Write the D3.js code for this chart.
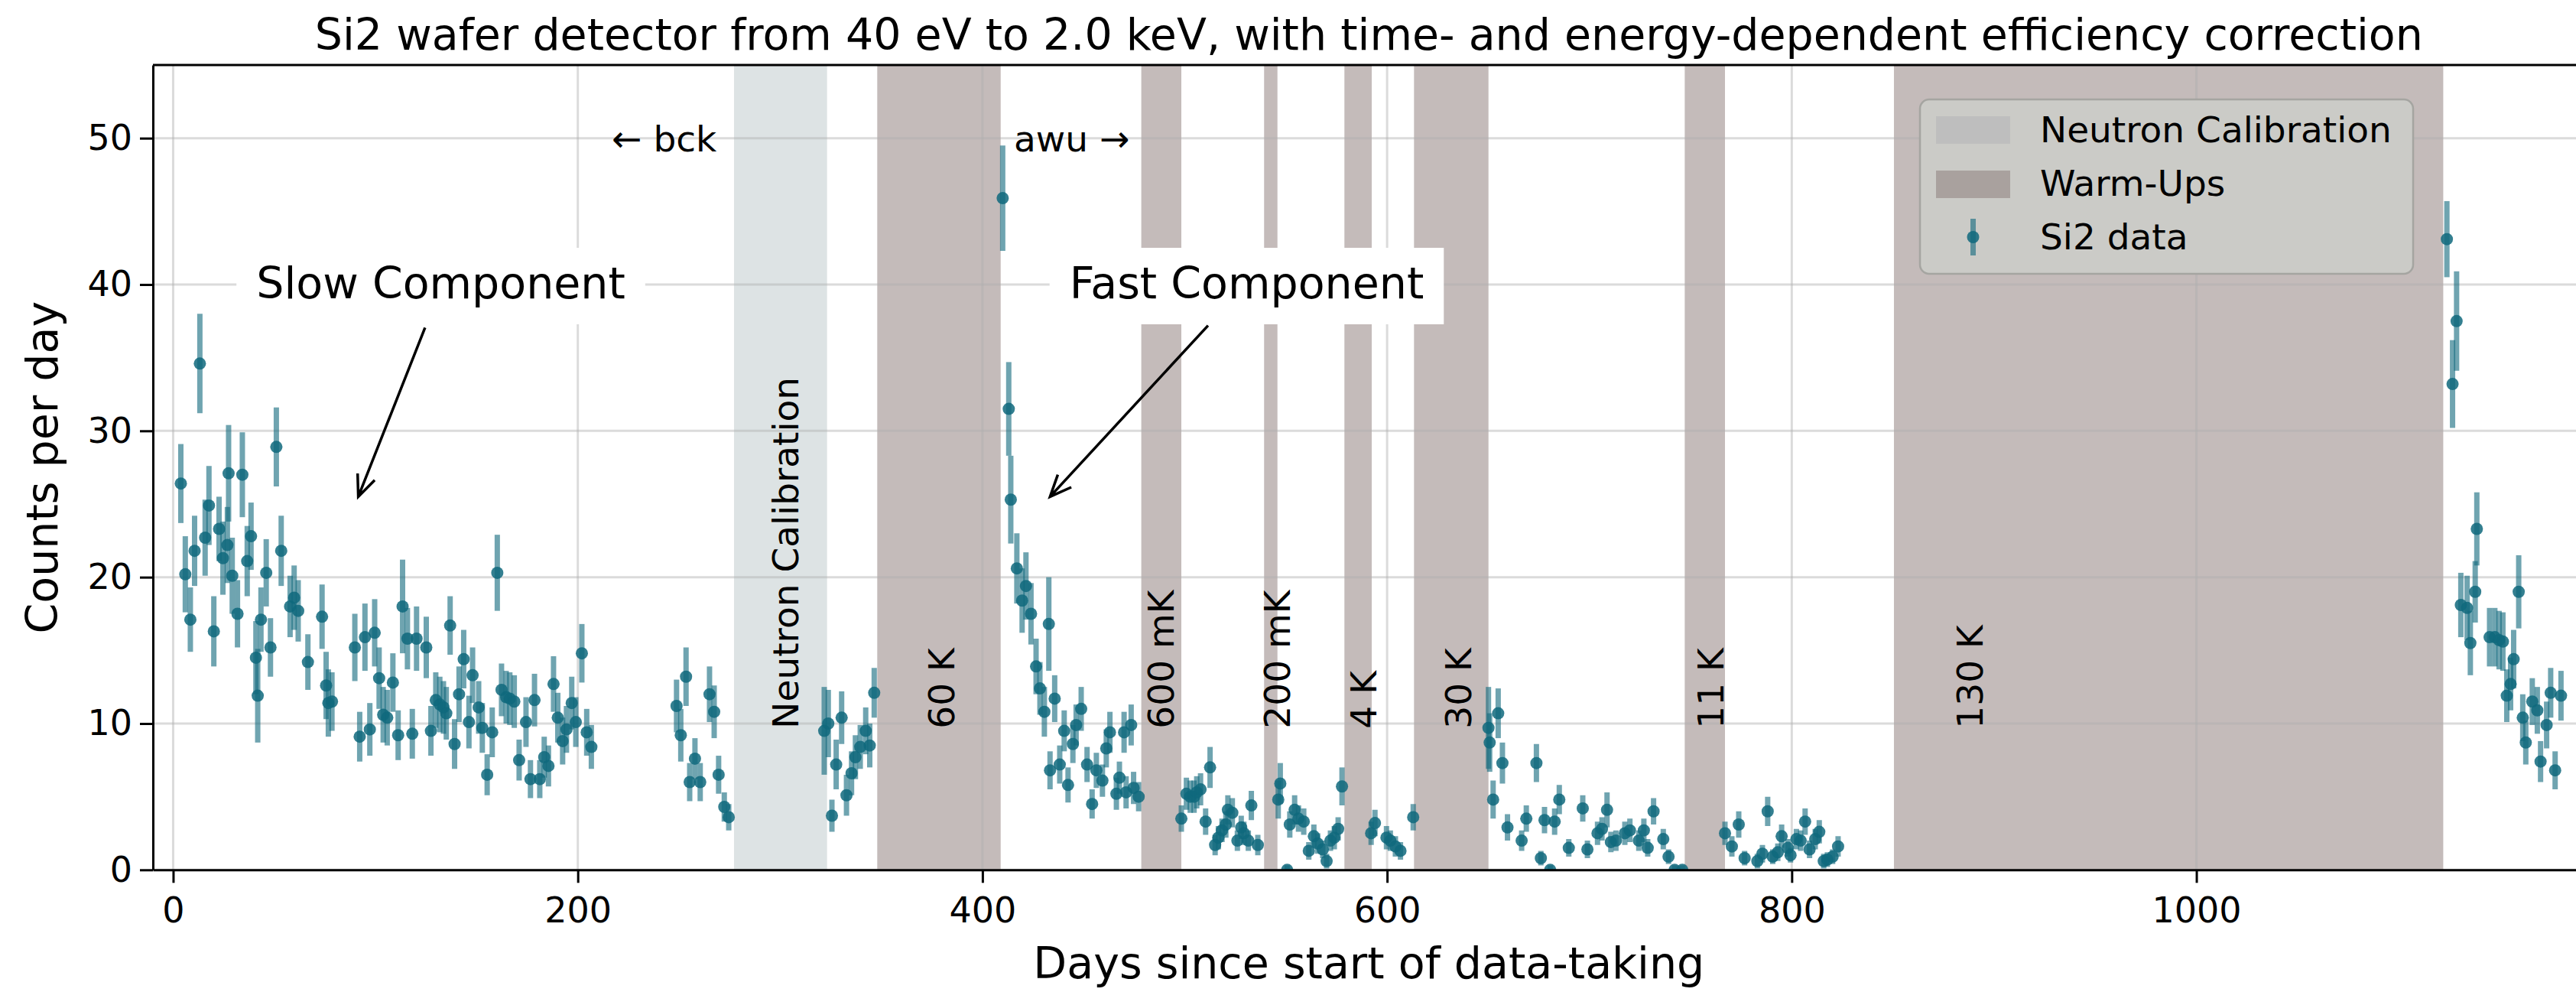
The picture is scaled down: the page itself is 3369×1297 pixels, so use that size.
<!DOCTYPE html>
<html>
<head>
<meta charset="utf-8">
<script src="https://cdn.jsdelivr.net/npm/d3@7"></script>
<style>
  html, body { margin: 0; padding: 0; background: #ffffff; }
  svg { display: block; }
  text { font-family: "DejaVu Sans", sans-serif; fill: #000; }
</style>
</head>
<body>
<svg id="chart"></svg>
<script>
// ---- Si2 daily count rate (days since start, counts per day, 1-sigma error) ----
const days = [
  // first cool-down, slow component
  3.8, 6.0, 8.5, 10.6, 13.2, 15.8, 17.7, 20.1, 22.7, 24.6,
  26.8, 27.4, 29.2, 31.8, 34.2, 36.6, 38.5, 40.9, 41.8, 43.4,
  46.0, 48.1, 51.0, 53.4, 57.8, 59.8, 61.8, 66.6, 73.6, 75.6,
  76.7, 78.5,
  89.8, 92.2, 94.8, 97.2, 99.6, 101.8, 103.8, 105.8, 108.6, 111.2,
  113.4, 115.8, 118.2, 120.3, 125.1, 127.4, 129.8, 131.8, 133.6, 135.0,
  136.9, 139.1, 141.3, 143.6, 146.2, 148.0, 151.0, 152.8, 155.2, 157.7,
  160.2, 162.3, 164.6, 166.4, 168.6, 171.0, 174.4, 176.6, 178.6, 181.2,
  183.4, 185.5, 188.0, 190.1, 192.5, 194.4, 197.0, 199.0, 202.0, 204.4,
  206.7,
  // before and after the neutron calibration
  248.8, 250.9, 253.5, 255.3, 257.9, 260.5, 265.1, 267.4, 269.6, 272.4, 274.6,
  321.8, 323.8, 325.6, 327.7, 330.4, 332.8, 335.3, 337.2, 339.6, 342.3, 344.3, 346.5,
  // after the 60 K warm-up, fast component
  410.0, 413.0, 414.0, 417.0, 419.6, 421.5, 424.0, 426.5, 428.4, 430.6,
  432.8, 433.4, 435.7, 438.2, 440.4, 442.3, 444.7, 446.3, 448.8, 451.7,
  454.2, 456.3, 459.3, 461.2, 463.0, 466.2, 467.7, 470.0, 471.0, 473.5,
  474.7, 477.2,
  // between the short warm-ups
  498.3, 500.8, 502.7, 504.6, 505.9, 507.8, 510.3, 512.5, 515.0, 516.6,
  518.4, 520.3, 521.3, 523.5, 526.0, 527.9, 529.2, 531.4, 532.9, 536.1,
  546.2, 547.2, 550.6, 551.9, 554.3, 556.2, 558.8, 561.3, 563.8, 565.7,
  568.2, 570.1, 572.0, 573.9, 575.8, 577.7, 592.1, 594.0, 599.7, 601.6,
  604.1, 606.6, 612.9,
  650.1, 650.7, 652.4, 654.9, 657.0, 659.5, 666.5, 668.8, 673.8, 676.0,
  677.8, 680.6, 682.8, 685.1, 689.8, 696.7, 699.0, 704.0, 706.2, 708.7,
  710.6, 713.1, 717.5, 720.0, 724.4, 726.9, 728.8, 731.7, 736.5, 739.1,
  742.1, 745.9,
  767.0, 770.4, 773.8, 776.7, 783.0, 785.5, 788.1, 790.6, 793.1, 795.0,
  798.1, 799.4, 802.3, 804.4, 806.6, 808.8, 811.6, 813.6, 815.8, 817.6,
  820.2, 822.9,
  // after the 130 K warm-up
  1123.8, 1126.6, 1128.6, 1130.7, 1133.8, 1135.4, 1137.8, 1138.6, 1144.9, 1147.5,
  1149.6, 1151.5, 1153.4, 1155.3, 1156.8, 1159.3, 1161.3, 1162.8, 1166.0, 1168.5,
  1170.1, 1173.1, 1175.1, 1177.3, 1180.2
];

const counts = [
  26.4, 20.2, 17.1, 21.8, 34.6, 22.7, 24.9, 16.3, 23.3, 21.3,
  22.2, 27.1, 20.1, 17.5, 27.0, 21.1, 22.8, 14.5, 11.9, 17.1,
  20.3, 15.2, 28.9, 21.8, 18.0, 18.6, 17.7, 14.2, 17.3, 12.6,
  11.4, 11.5,
  15.2, 9.1, 15.9, 9.6, 16.2, 13.1, 10.6, 10.4, 12.8, 9.2,
  18.0, 15.8, 9.3, 15.8, 15.2, 9.5, 11.6, 11.3, 11.1, 10.7,
  16.7, 8.6, 12.0, 14.4, 10.1, 13.3, 11.1, 9.7, 6.5, 9.4,
  20.3, 12.3, 11.8, 11.7, 11.5, 7.5, 10.1, 6.2, 11.6, 6.2,
  7.7, 7.1, 12.7, 10.4, 8.8, 9.6, 11.4, 10.1, 14.8, 9.4,
  8.4,
  11.2, 9.2, 13.2, 6.0, 7.6, 6.0, 12.0, 10.8, 6.5, 4.3, 3.6,
  9.5, 10.0, 3.7, 7.2, 10.4, 5.1, 6.6, 7.7, 8.4, 9.5, 8.5, 12.1,
  45.9, 31.5, 25.3, 20.6, 18.4, 19.4, 17.5, 13.9, 12.4, 10.8,
  16.8, 6.8, 11.7, 7.2, 9.5, 5.8, 8.6, 9.9, 11.0, 7.2,
  4.5, 6.8, 6.1, 8.3, 9.4, 5.2, 6.3, 9.4, 5.3, 9.9,
  5.6, 5.0,
  3.5, 5.2, 5.0, 5.0, 5.3, 5.5, 3.3, 7.0, 1.7, 2.2,
  2.7, 3.1, 4.1, 3.9, 2.0, 2.9, 2.5, 2.0, 4.4, 1.7,
  4.8, 5.9, 0.0, 3.1, 4.1, 3.5, 3.3, 1.3, 2.3, 1.8,
  1.4, 0.6, 2.0, 2.2, 2.8, 5.7, 2.5, 3.2, 2.2, 2.0,
  1.6, 1.3, 3.6,
  9.7, 8.7, 4.8, 10.7, 7.3, 2.9, 2.0, 3.5, 7.3, 0.8,
  3.4, 0.0, 3.3, 4.8, 1.5, 4.2, 1.4, 2.5, 2.8, 4.1,
  1.9, 2.0, 2.5, 2.7, 2.0, 2.7, 1.5, 4.0, 2.1, 0.9,
  0.0, 0.0,
  2.5, 1.6, 3.1, 0.8, 0.6, 1.1, 4.0, 0.9, 1.2, 2.3,
  1.5, 1.0, 2.1, 2.0, 3.3, 1.4, 2.1, 2.6, 0.6, 0.7,
  0.9, 1.6,
  43.1, 33.2, 37.5, 18.1, 17.9, 15.5, 19.0, 23.3, 15.9, 15.9,
  15.7, 15.6, 11.9, 12.7, 14.4, 19.0, 10.4, 8.7, 11.5, 10.9,
  7.4, 9.9, 12.1, 6.8, 11.9
];

const errors = [
  2.7, 2.6, 2.2, 2.4, 3.4, 2.6, 2.7, 2.4, 2.2, 2.5,
  2.6, 3.3, 2.6, 2.3, 2.9, 2.4, 2.3, 2.5, 3.2, 2.2,
  2.3, 2.0, 2.7, 2.4, 2.1, 2.2, 2.1, 1.9, 2.2, 2.3,
  2.3, 2.0,
  2.3, 1.7, 2.3, 1.8, 2.3, 2.1, 1.9, 1.9, 2.0, 1.7,
  3.2, 2.1, 1.7, 2.2, 2.1, 1.7, 1.9, 1.9, 1.8, 1.8,
  2.0, 1.7, 1.9, 2.0, 1.8, 1.9, 1.8, 1.7, 1.4, 1.7,
  2.6, 1.8, 1.8, 1.8, 1.8, 1.4, 1.7, 1.3, 1.8, 1.3,
  1.4, 1.4, 1.9, 1.7, 1.6, 1.6, 1.8, 1.7, 2.0, 1.6,
  1.5,
  1.8, 1.8, 2.0, 1.3, 1.4, 1.3, 1.9, 1.8, 1.3, 1.0, 0.9,
  3.0, 2.3, 1.1, 1.7, 1.8, 1.4, 1.5, 1.5, 1.5, 1.6, 1.5, 1.7,
  3.6, 3.2, 3.0, 2.4, 2.2, 2.3, 2.1, 1.9, 1.8, 1.7,
  3.2, 1.3, 1.6, 1.3, 1.4, 1.2, 1.3, 1.4, 1.5, 1.2,
  1.0, 1.2, 1.1, 1.3, 1.4, 1.1, 1.1, 1.4, 1.1, 1.4,
  1.1, 1.0,
  0.9, 1.1, 1.1, 1.1, 1.1, 1.1, 0.9, 1.4, 0.7, 0.8,
  0.8, 0.9, 1.0, 1.0, 0.7, 0.8, 0.8, 0.7, 1.0, 0.7,
  1.3, 1.4, 0.3, 0.9, 1.0, 0.9, 0.9, 0.6, 0.8, 0.7,
  0.6, 0.5, 0.7, 0.8, 0.8, 1.3, 0.8, 0.9, 0.8, 0.7,
  0.7, 0.6, 0.9,
  2.8, 2.0, 1.3, 1.7, 1.4, 0.9, 0.7, 0.9, 1.3, 0.5,
  0.9, 0.3, 0.9, 1.0, 0.6, 0.9, 0.6, 0.8, 0.8, 1.2,
  0.7, 0.7, 0.8, 0.8, 0.7, 0.8, 0.6, 0.9, 0.7, 0.5,
  0.3, 0.3,
  0.8, 0.7, 0.9, 0.5, 0.5, 0.6, 1.0, 0.5, 0.6, 0.8,
  0.6, 0.5, 0.7, 0.7, 0.9, 0.6, 0.7, 0.8, 0.5, 0.5,
  0.5, 0.7,
  2.6, 3.0, 3.4, 2.2, 2.2, 2.2, 2.1, 2.5, 2.0, 2.0,
  2.0, 2.0, 1.8, 1.8, 2.0, 2.5, 1.6, 1.5, 1.6, 1.6,
  1.4, 1.6, 1.7, 1.3, 1.7
];

// ---- shaded periods (start day, end day) ----
const calibrationSpans = [[277.2, 323.2]];
const calibrationLabels = ["Neutron Calibration"];
const calibrationLabelDays = [302.4];

const warmupSpans = [
  [348.0, 409.0], [478.5, 498.3], [539.2, 545.8], [578.9, 592.4],
  [613.3, 650.1], [747.1, 767.0], [850.5, 1122.0]
];
const warmupLabels = ["60 K", "600 mK", "200 mK", "4 K", "30 K", "11 K", "130 K"];
const warmupLabelDays = [379.5, 488.0, 545.5, 588.3, 635.0, 759.8, 888.0];
const spanLabelBase = 9.65;   // counts/day where the rotated period labels begin

// ---- axes ----
const xTicks = [0, 200, 400, 600, 800, 1000];
const yTicks = [0, 10, 20, 30, 40, 50];
const xDomain = [-10, 1192];
const yDomain = [0, 55];

// ---- annotations: [text, text day, text counts, arrow tail day, tail counts, head day, head counts]
const componentNotes = [
  ["Slow Component", 132.3, 40, 124.5, 37.05, 91.5, 25.5],
  ["Fast Component", 530.6, 40, 511.5, 37.2, 433.4, 25.5]
];
const markerNotes = [["\u2190 bck", 216.8, 50], ["awu \u2192", 415.5, 50]];

const titleText = "Si2 wafer detector from 40 eV to 2.0 keV, with time- and energy-dependent efficiency correction";
const xLabel = "Days since start of data-taking";
const yLabel = "Counts per day";
const legendLabels = ["Neutron Calibration", "Warm-Ups", "Si2 data"];

// ---- drawing ----
const W = 3369, H = 1297;
const plot = { left: 200, right: 3380.6, top: 85, bottom: 1137.3 };

const COL = {
  calib: "#dde3e4",
  warm: "#c4bbba",
  grid: "#b0b0b0",
  point: "#0f687c",
  legendBg: "#cbcbc7",
  legendEdge: "#a5a5a1",
  legendCalib: "#bebebe",
  legendWarm: "#a9a19e"
};

const svg = d3.select("#chart").attr("width", W).attr("height", H)
  .attr("viewBox", `0 0 ${W} ${H}`);

const x = d3.scaleLinear().domain(xDomain).range([plot.left, plot.right]);
const y = d3.scaleLinear().domain(yDomain).range([plot.bottom, plot.top]);

svg.append("defs").append("clipPath").attr("id", "plotclip")
  .append("rect")
  .attr("x", plot.left).attr("y", plot.top)
  .attr("width", plot.right - plot.left).attr("height", plot.bottom - plot.top);

const body = svg.append("g").attr("clip-path", "url(#plotclip)");

// shaded periods
body.append("g").selectAll("rect").data(calibrationSpans).join("rect")
  .attr("x", d => x(d[0])).attr("width", d => x(d[1]) - x(d[0]))
  .attr("y", plot.top).attr("height", plot.bottom - plot.top)
  .attr("fill", COL.calib);

body.append("g").selectAll("rect").data(warmupSpans).join("rect")
  .attr("x", d => x(d[0])).attr("width", d => x(d[1]) - x(d[0]))
  .attr("y", plot.top).attr("height", plot.bottom - plot.top)
  .attr("fill", COL.warm);

// grid
const grid = body.append("g").attr("stroke", COL.grid).attr("stroke-opacity", 0.45).attr("stroke-width", 3);
grid.selectAll("line.v").data(xTicks).join("line").attr("class", "v")
  .attr("x1", d => x(d)).attr("x2", d => x(d)).attr("y1", plot.top).attr("y2", plot.bottom);
grid.selectAll("line.h").data(yTicks).join("line").attr("class", "h")
  .attr("x1", plot.left).attr("x2", plot.right).attr("y1", d => y(d)).attr("y2", d => y(d));

// rotated period labels
const spanLabelData = calibrationLabels.map((t, i) => [t, calibrationLabelDays[i]])
  .concat(warmupLabels.map((t, i) => [t, warmupLabelDays[i]]));
body.append("g").selectAll("text").data(spanLabelData).join("text")
  .attr("transform", d => `translate(${x(d[1])},${y(spanLabelBase)}) rotate(-90)`)
  .attr("dy", "0.36em")
  .attr("text-anchor", "start")
  .attr("font-size", 47)
  .text(d => d[0]);

// data points with error bars
const points = d3.range(Math.min(days.length, counts.length, errors.length))
  .map(i => ({ t: days[i], c: counts[i], e: errors[i] }));

body.append("g").attr("stroke", COL.point).attr("stroke-opacity", 0.6).attr("stroke-width", 7)
  .selectAll("line").data(points).join("line")
  .attr("x1", d => x(d.t)).attr("x2", d => x(d.t))
  .attr("y1", d => y(Math.max(d.c - d.e, -1))).attr("y2", d => y(d.c + d.e));

body.append("g").selectAll("circle").data(points).join("circle")
  .attr("cx", d => x(d.t)).attr("cy", d => y(d.c)).attr("r", 8)
  .attr("fill", COL.point).attr("fill-opacity", 0.85);

// short marker notes
body.append("g").selectAll("text").data(markerNotes).join("text")
  .attr("x", d => x(d[1])).attr("y", d => y(d[2]) + 17)
  .attr("font-size", 47)
  .text(d => d[0]);

// component annotations with arrows
const notes = body.append("g");
componentNotes.forEach(n => {
  const [label, tx, ty, ax0, ay0, ax1, ay1] = n;
  const g = notes.append("g");
  const txt = g.append("text")
    .attr("x", x(tx)).attr("y", y(ty) + 18)
    .attr("text-anchor", "middle").attr("font-size", 57)
    .text(label);
  const bb = txt.node().getBBox();
  g.insert("rect", "text")
    .attr("x", bb.x - 26).attr("width", bb.width + 52)
    .attr("y", y(ty) - 48).attr("height", 100)
    .attr("fill", "#ffffff");

  const x0 = x(ax0), y0 = y(ay0), x1 = x(ax1), y1 = y(ay1);
  const ang = Math.atan2(y1 - y0, x1 - x0);
  const hl = 28, hw = 12;
  const bx = x1 - hl * Math.cos(ang), by = y1 - hl * Math.sin(ang);
  const px = -Math.sin(ang) * hw, py = Math.cos(ang) * hw;
  g.append("path")
    .attr("d", `M${x0},${y0}L${x1},${y1}M${bx + px},${by + py}L${x1},${y1}L${bx - px},${by - py}`)
    .attr("fill", "none").attr("stroke", "#000").attr("stroke-width", 3.5)
    .attr("stroke-linejoin", "miter");
});

// axes
const xAxis = svg.append("g").attr("transform", `translate(0,${plot.bottom})`)
  .call(d3.axisBottom(x).tickValues(xTicks).tickFormat(d3.format("d"))
    .tickSize(17).tickSizeOuter(0).tickPadding(19));
const yAxis = svg.append("g").attr("transform", `translate(${plot.left},0)`)
  .call(d3.axisLeft(y).tickValues(yTicks).tickFormat(d3.format("d"))
    .tickSize(17).tickSizeOuter(0).tickPadding(10));
[xAxis, yAxis].forEach(a => {
  a.select(".domain").attr("stroke", "#000").attr("stroke-width", 3);
  a.selectAll(".tick line").attr("stroke", "#000").attr("stroke-width", 3);
  a.selectAll(".tick text").attr("font-size", 46).attr("font-family", "DejaVu Sans").attr("fill", "#000");
});
svg.append("line").attr("x1", plot.left).attr("x2", plot.right)
  .attr("y1", plot.top).attr("y2", plot.top)
  .attr("stroke", "#000").attr("stroke-width", 3);

// labels
svg.append("text").attr("x", (plot.left + plot.right) / 2).attr("y", 65)
  .attr("text-anchor", "middle").attr("font-size", 57).text(titleText);
svg.append("text").attr("x", (plot.left + plot.right) / 2).attr("y", 1279)
  .attr("text-anchor", "middle").attr("font-size", 57).text(xLabel);
svg.append("text").attr("transform", `translate(75,${(plot.top + plot.bottom) / 2}) rotate(-90)`)
  .attr("text-anchor", "middle").attr("font-size", 57).text(yLabel);

// legend
const lg = svg.append("g");
lg.append("rect").attr("x", 2511).attr("y", 130).attr("width", 645).attr("height", 228)
  .attr("rx", 12).attr("fill", COL.legendBg).attr("stroke", COL.legendEdge).attr("stroke-width", 2.5);
lg.append("rect").attr("x", 2532).attr("y", 152).attr("width", 97).attr("height", 36).attr("fill", COL.legendCalib);
lg.append("rect").attr("x", 2532).attr("y", 223).attr("width", 97).attr("height", 36).attr("fill", COL.legendWarm);
lg.append("line").attr("x1", 2580.5).attr("x2", 2580.5).attr("y1", 286).attr("y2", 334)
  .attr("stroke", COL.point).attr("stroke-opacity", 0.6).attr("stroke-width", 7);
lg.append("circle").attr("cx", 2580.5).attr("cy", 310).attr("r", 8)
  .attr("fill", COL.point).attr("fill-opacity", 0.85);
lg.selectAll("text.lab").data(legendLabels).join("text").attr("class", "lab")
  .attr("x", 2668).attr("y", (d, i) => 186 + i * 70)
  .attr("font-size", 47).text(d => d);
</script>
</body>
</html>
